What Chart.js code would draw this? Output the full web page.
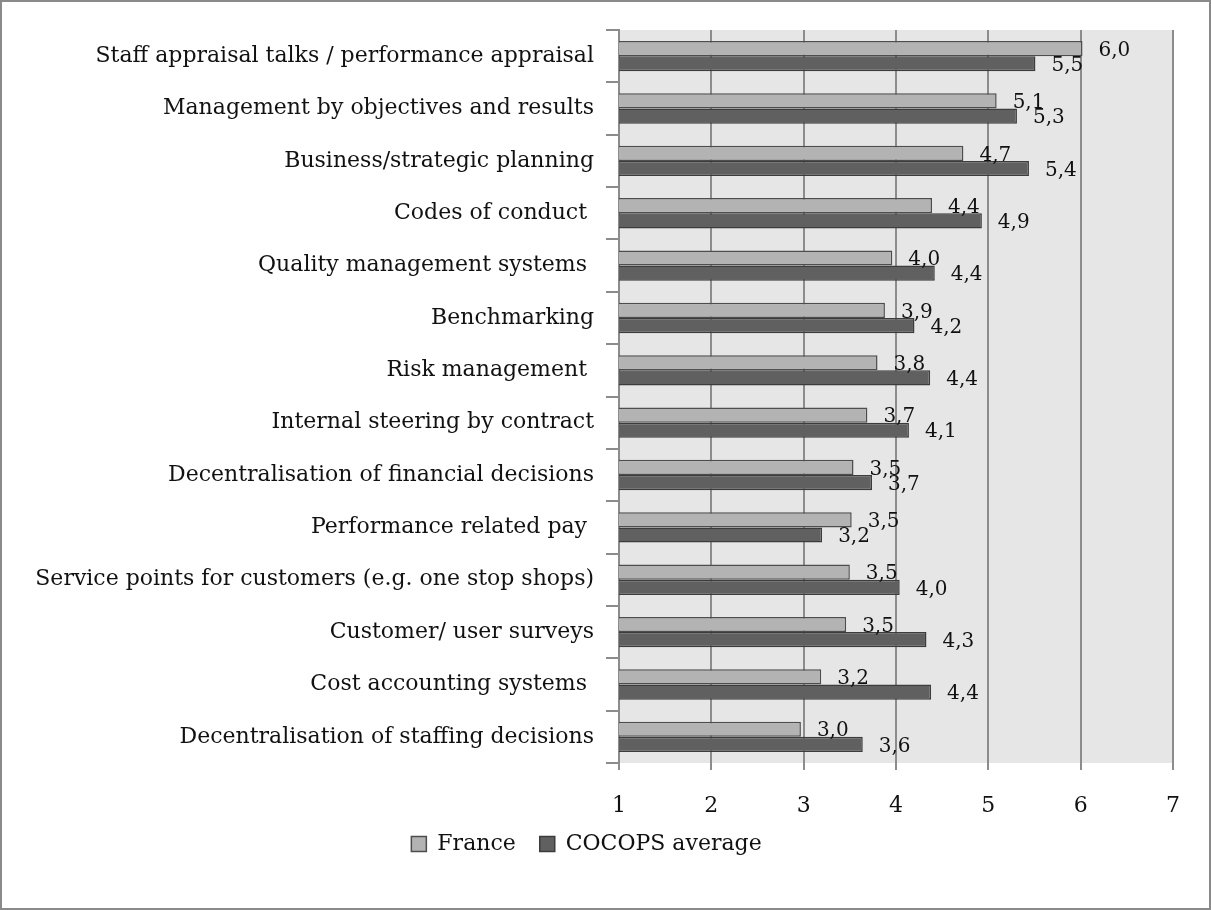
<!DOCTYPE html>
<html>
<head>
<meta charset="utf-8">
<script src="https://cdn.jsdelivr.net/npm/chart.js@4.4.0/dist/chart.umd.min.js"></script>
<style>
  body { margin: 0; background: #fff; }
  #wrap { position: relative; width: 1211px; height: 910px; }
  #frame { position: absolute; left: 0; top: 0; width: 1211px; height: 910px;
           box-sizing: border-box; border: 2px solid #8a8a8a; pointer-events: none; }
</style>
</head>
<body>
<div id="wrap">
  <canvas id="myChart" width="1211" height="910"></canvas>
  <div id="frame"></div>
</div>
<script>
// Categories (top to bottom)
let categories = [
    "Staff appraisal talks / performance appraisal",
    "Management by objectives and results",
    "Business/strategic planning",
    "Codes of conduct ",
    "Quality management systems ",
    "Benchmarking",
    "Risk management ",
    "Internal steering by contract",
    "Decentralisation of financial decisions",
    "Performance related pay ",
    "Service points for customers (e.g. one stop shops)",
    "Customer/ user surveys",
    "Cost accounting systems ",
    "Decentralisation of staffing decisions"
];

// Series values
let france = [6.02, 5.09, 4.73, 4.39, 3.96, 3.88, 3.80, 3.69, 3.54, 3.52, 3.50, 3.46, 3.19, 2.97];
let cocops = [5.51, 5.31, 5.44, 4.93, 4.42, 4.20, 4.37, 4.14, 3.74, 3.20, 4.04, 4.33, 4.38, 3.64];

// Axis ticks
let xTicks = [1, 2, 3, 4, 5, 6, 7];

let serif = "'DejaVu Serif', serif";

// Light gray plot background
const plotBackground = {
    id: 'plotBackground',
    beforeDraw(chart) {
        const { ctx, chartArea } = chart;
        ctx.save();
        ctx.fillStyle = '#e6e6e6';
        ctx.fillRect(chartArea.left, chartArea.top, chartArea.right - chartArea.left, chartArea.bottom - chartArea.top);
        ctx.restore();
    }
};

// Value labels to the right of each bar, comma as decimal mark
const valueLabels = {
    id: 'valueLabels',
    afterDatasetsDraw(chart) {
        const ctx = chart.ctx;
        ctx.save();
        ctx.font = "20px " + serif;
        ctx.fillStyle = '#111';
        ctx.textAlign = 'left';
        ctx.textBaseline = 'middle';
        chart.data.datasets.forEach((ds, i) => {
            chart.getDatasetMeta(i).data.forEach((bar, j) => {
                let text = ds.data[j].toFixed(1).replace('.', ',');
                ctx.fillText(text, bar.x + 16, bar.y + 2);
            });
        });
        ctx.restore();
    }
};

function createChart() {
    var ctx = document.getElementById('myChart').getContext('2d');
    var myChart = new Chart(ctx, {
        type: 'bar',
        data: {
            labels: categories,
            datasets: [{
                label: 'France',
                data: france,
                backgroundColor: '#b3b3b3',
                borderColor: '#4d4d4d',
                borderWidth: 1.5,
                borderSkipped: false,
                categoryPercentage: 0.58,
                barPercentage: 1.0
            }, {
                label: 'COCOPS average',
                data: cocops,
                backgroundColor: '#606060',
                borderColor: '#3c3c3c',
                borderWidth: 1.5,
                borderSkipped: false,
                categoryPercentage: 0.58,
                barPercentage: 1.0
            }]
        },
        options: {
            indexAxis: 'y',
            responsive: false,
            animation: false,
            layout: { padding: { top: 30, right: 38, left: 0, bottom: 45 } },
            plugins: {
                tooltip: { enabled: false },
                legend: {
                    position: 'bottom',
                    labels: {
                        font: { family: serif, size: 22 },
                        color: '#111',
                        boxWidth: 15,
                        boxHeight: 15,
                        padding: 10,
                        generateLabels(chart) {
                            // default items, with a wider gap after the first one
                            let items = Chart.defaults.plugins.legend.labels.generateLabels(chart);
                            items[0].text += '\u00a0\u00a0';
                            return items;
                        }
                    }
                }
            },
            scales: {
                x: {
                    min: 1,
                    max: 7,
                    afterBuildTicks(scale) {
                        scale.ticks = xTicks.map(v => ({ value: v }));
                    },
                    afterFit(scale) { scale.height = 60; },
                    ticks: {
                        font: { family: serif, size: 22 },
                        color: '#111',
                        padding: 23
                    },
                    grid: {
                        color: '#8c8c8c',
                        lineWidth: 2,
                        tickLength: 7
                    },
                    border: { display: false }
                },
                y: {
                    afterFit(scale) { scale.width = 619; },
                    ticks: {
                        font: { family: serif, size: 22 },
                        color: '#111',
                        padding: 12
                    },
                    grid: {
                        drawOnChartArea: false,
                        color: '#8c8c8c',
                        lineWidth: 2,
                        tickLength: 13
                    },
                    border: { display: true, color: '#8c8c8c', width: 2 }
                }
            }
        },
        plugins: [plotBackground, valueLabels]
    });
}

createChart();
</script>
</body>
</html>
